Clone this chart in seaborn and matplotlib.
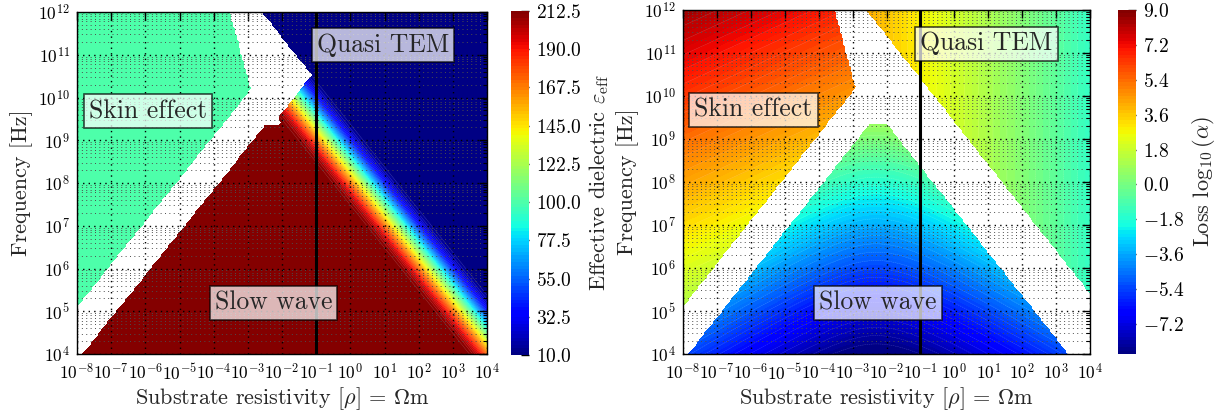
import numpy as np
import matplotlib
matplotlib.use("Agg")
import matplotlib.pyplot as plt
import matplotlib.ticker as mticker
import seaborn as sns

# ---- axis ranges (decades) ----
log_rho_range = [-8.0, 4.0]
log_f_range = [4.0, 12.0]
rho_major = 10.0 ** np.arange(-8, 5)
f_major = 10.0 ** np.arange(4, 13)

# ---- mode boundaries, in log10 units ----
# u = log10 f + log10 rho  (dielectric relaxation lines)
# v = log10 f - log10 rho  (skin-depth lines)
slow_wave_u_max = 7.36
quasi_tem_u_min = 9.40
transition_u_end = 9.50
slow_wave_v_max = 11.85
transition_v_max = 11.65
slow_wave_logf_max = 9.38
skin_v_min = 13.10
skin_edge = [0.56, 0.34]          # log rho < a - b * log f
conductor_line_rho = 0.1

# ---- effective dielectric per mode ----
eps_slow = 212.5
eps_quasi_tem = 10.0
eps_skin = 100.0
eps_ticks = [10.0, 32.5, 55.0, 77.5, 100.0, 122.5, 145.0, 167.5, 190.0, 212.5]

# ---- loss model per mode: log10(alpha) ----
loss_skin = [8.5, 1.05, 0.38]          # value at (1e-8, 1e12), d/dlogf, -d/dlogrho
loss_quasi_tem = [4.1, -2.5, 0.85]     # value at rho0, log rho0, -d/dlogrho
loss_slow = [-9.0, 1.83, 0.85, 1.4, -2.3]  # base, d/dlogf, spread, width, centre
loss_range = [-8.75, 9.0]
loss_ticks = [-7.2, -5.4, -3.6, -1.8, 0.0, 1.8, 3.6, 5.4, 7.2, 9.0]

# ---- region labels ----
label_text = ["Skin effect", "Slow wave", "Quasi TEM"]
label_log_rho = [-5.92, -2.25, 0.95]
label_log_f = [9.68, 5.19, 11.22]

# ---- style ----
sns.set_style("white")
plt.rcParams.update({
    "font.family": ["cmr10"],
    "mathtext.fontset": "cm",
    "axes.formatter.use_mathtext": True,
    "axes.unicode_minus": False,
    "axes.edgecolor": "black",
    "axes.linewidth": 1.0,
    "xtick.direction": "in",
    "ytick.direction": "in",
    "xtick.color": "black",
    "ytick.color": "black",
})
jet = matplotlib.colormaps["jet"]

# ---- evaluation grid ----
lr = np.linspace(*log_rho_range, 230)
lf = np.linspace(*log_f_range, 185)
LR, LF = np.meshgrid(lr, lf)
U = LF + LR
V = LF - LR
RHO, FREQ = 10.0 ** LR, 10.0 ** LF

skin = (V > skin_v_min) & (LR < skin_edge[0] - skin_edge[1] * LF)
quasi = U > quasi_tem_u_min
slow = (U < slow_wave_u_max) & (V < slow_wave_v_max) & (LF < slow_wave_logf_max)
transition = (U >= slow_wave_u_max) & (U <= quasi_tem_u_min) & (V < transition_v_max)

# effective dielectric: plateau, smooth roll-off, quasi-TEM floor
t = np.clip((U - slow_wave_u_max) / (transition_u_end - slow_wave_u_max), 0, 1)
step = 3 * t ** 2 - 2 * t ** 3
eps_field = eps_slow - (eps_slow - eps_quasi_tem) * step
eps = np.full(U.shape, np.nan)
shown = slow | transition | quasi
eps[shown] = eps_field[shown]
eps[skin] = eps_skin
eps = np.ma.masked_invalid(eps)

# loss
a0, af, ar = loss_skin
skin_loss = a0 + af * (LF - 12.0) - ar * (LR + 8.0)
q0, qr0, qr = loss_quasi_tem
quasi_loss = q0 - qr * (LR - qr0)
s0, sf, sr, sw, sc = loss_slow
slow_loss = s0 + sf * (LF - 4.0) + sr * (np.sqrt((LR - sc) ** 2 + sw ** 2) - sw)
loss = np.full(U.shape, np.nan)
loss[skin] = skin_loss[skin]
loss[quasi] = quasi_loss[quasi]
loss[slow] = slow_loss[slow]
loss = np.ma.masked_invalid(np.clip(loss, *loss_range))

# ---- figure ----
W, H = 1217, 412
fig = plt.figure(figsize=(W / 100, H / 100), dpi=100)
ax1 = fig.add_axes([77 / W, 1 - 354 / H, 410 / W, 342 / H])
cax1 = fig.add_axes([511 / W, 1 - 355 / H, 18 / W, 344 / H])
ax2 = fig.add_axes([683 / W, 1 - 354 / H, 407 / W, 344 / H])
cax2 = fig.add_axes([1118 / W, 1 - 354 / H, 18 / W, 344 / H])

eps_levels = np.linspace(eps_ticks[0], eps_ticks[-1], 101)
loss_levels = np.linspace(loss_range[0], loss_range[1], 101)

panels = [
    (ax1, cax1, eps, eps_levels, eps_ticks, r"Effective dielectric $\varepsilon_{\rm eff}$"),
    (ax2, cax2, loss, loss_levels, loss_ticks, r"Loss $\log_{10}(\alpha)$"),
]

for ax, cax, field, levels, ticks, clabel in panels:
    cs = ax.contourf(RHO, FREQ, field, levels=levels, cmap=jet, zorder=1)
    ax.contour(RHO, FREQ, field, levels=levels[1:-1:2], colors="white",
               linewidths=0.3, alpha=0.25, zorder=1.1)
    ax.set_xscale("log")
    ax.set_yscale("log")
    ax.set_xlim(10 ** log_rho_range[0], 10 ** log_rho_range[1])
    ax.set_ylim(10 ** log_f_range[0], 10 ** log_f_range[1])
    ax.xaxis.set_major_locator(mticker.FixedLocator(rho_major))
    ax.xaxis.set_minor_locator(mticker.NullLocator())
    ax.yaxis.set_major_locator(mticker.FixedLocator(f_major))
    ax.yaxis.set_minor_locator(mticker.LogLocator(base=10, subs=np.arange(2, 10), numticks=40))
    ax.xaxis.set_major_formatter(mticker.LogFormatterSciNotation())
    ax.yaxis.set_major_formatter(mticker.LogFormatterSciNotation())
    ax.tick_params(which="major", direction="in", length=6, width=1, top=True, right=True,
                   labelsize=12.5)
    ax.tick_params(axis="x", which="major", pad=6)
    ax.tick_params(axis="y", which="major", pad=5)
    ax.tick_params(which="minor", direction="in", length=3, width=0.8, top=True, right=True)
    ax.set_axisbelow(False)
    ax.grid(True, which="major", axis="both", color="black", linestyle=(0, (1, 3)), linewidth=1.0)
    ax.grid(True, which="minor", axis="y", color="0.3", linestyle=(0, (1, 3.5)), linewidth=0.7)
    ax.axvline(conductor_line_rho, color="black", linewidth=2.2, zorder=3)
    for txt, xr, yf in zip(label_text, label_log_rho, label_log_f):
        ax.text(10 ** xr, 10 ** yf, txt, fontsize=18.5, ha="center", va="center", zorder=5,
                bbox=dict(boxstyle="square,pad=0.2", facecolor="white", edgecolor="black",
                          linewidth=1.2, alpha=0.72))
    ax.set_xlabel(r"Substrate resistivity $[\rho]$ = $\Omega$m", fontsize=16, labelpad=2)
    ax.set_ylabel("Frequency [Hz]", fontsize=16, labelpad=4)
    for sp in ax.spines.values():
        sp.set_zorder(6)

    cb = fig.colorbar(cs, cax=cax, ticks=ticks)
    cb.outline.set_visible(False)
    cb.ax.yaxis.set_major_formatter(mticker.FormatStrFormatter("$%.1f$"))
    cb.ax.tick_params(direction="in", length=6, width=1, color="black", labelsize=14, pad=5)
    cb.ax.minorticks_off()
    cb.set_label(clabel, fontsize=16, labelpad=4)

fig.savefig("out.png", dpi=100)
